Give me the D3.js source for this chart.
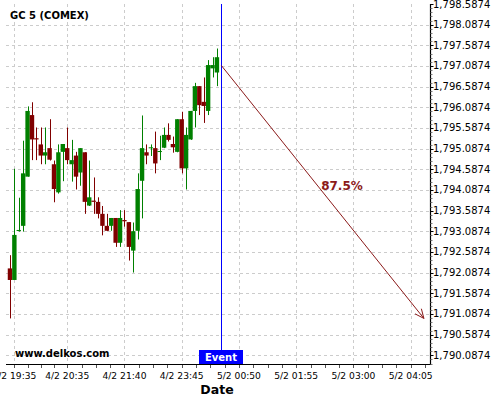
<!DOCTYPE html>
<html>
<head>
<meta charset="utf-8">
<script src="https://cdn.jsdelivr.net/npm/d3@7"></script>
<style>
  html, body { margin: 0; padding: 0; background: #fff; }
  svg { display: block; font-family: "DejaVu Sans", sans-serif; }
</style>
</head>
<body>
<svg id="chart" width="500" height="400"></svg>
<script>
// ---- data ----
const title = "GC 5 (COMEX)";
const opens  = [1792.19,1791.91,1793.10,1793.22,1794.41,1795.90,1795.34,1795.19,1794.92,1795.10,
                1794.71,1794.03,1795.01,1795.10,1794.71,1794.92,1794.51,1795.00,1793.71,1793.83,
                1793.80,1793.51,1793.22,1793.22,1793.41,1792.81,1793.36,1793.31,1792.62,1793.10,
                1794.31,1795.00,1795.10,1795.10,1795.01,1795.11,1795.42,1795.20,1795.01,1795.80,
                1794.61,1795.31,1796.00,1796.60,1796.22,1796.00,1797.03,1796.93];
const highs  = [1792.51,1794.60,1793.90,1795.28,1796.11,1796.21,1795.60,1795.60,1795.60,1795.80,
                1794.80,1795.19,1795.20,1795.60,1795.30,1795.01,1795.10,1795.00,1794.80,1794.39,
                1793.91,1793.70,1793.51,1793.41,1793.41,1793.60,1793.60,1793.31,1793.30,1794.49,
                1795.89,1795.19,1795.19,1795.50,1795.40,1795.60,1795.70,1795.38,1795.80,1795.98,
                1795.60,1796.00,1796.68,1796.60,1796.81,1797.23,1797.30,1797.51];
const lows   = [1790.98,1791.91,1793.08,1793.08,1794.41,1794.81,1794.81,1794.71,1794.71,1794.80,
                1793.79,1794.00,1794.30,1794.71,1794.29,1794.10,1794.19,1793.51,1793.70,1793.51,
                1793.40,1792.99,1793.09,1793.10,1792.71,1792.71,1793.20,1792.38,1792.09,1792.89,
                1793.40,1794.71,1794.91,1794.49,1794.81,1795.10,1795.26,1794.99,1795.00,1794.49,
                1794.10,1795.30,1795.60,1795.90,1795.71,1795.90,1796.81,1796.60];
const closes = [1791.91,1793.00,1793.12,1794.49,1796.00,1795.31,1795.31,1794.92,1795.00,1794.82,
                1794.11,1795.00,1795.20,1794.81,1794.81,1794.41,1795.10,1793.80,1793.91,1793.80,
                1793.51,1793.22,1793.10,1793.41,1792.81,1793.41,1793.33,1792.71,1793.09,1794.11,
                1795.10,1794.92,1795.12,1794.73,1795.03,1795.42,1795.30,1795.12,1795.80,1794.61,
                1795.42,1796.00,1796.60,1796.14,1796.12,1797.11,1797.11,1797.30];
const xTickIndex  = [1, 13, 26, 39, 52, 65, 78, 91];
const xTickLabels = ["4/2 19:35","4/2 20:35","4/2 21:40","4/2 23:45","5/2 00:50","5/2 01:55","5/2 03:00","5/2 04:05"];
const yTickValues = d3.range(0, 18).map(k => 1790.0874 + 0.5 * k);
const eventIndex = [48];
const forecastIndex = [48, 94];
const forecastPrice = [1797.10, 1790.98];
const forecastLabel = ["87.5%"];

// ---- layout ----
const svg = d3.select("#chart");
const L = 6, R = 430.5, T = 4, B = 364;
const x = d3.scaleLinear().domain([-0.9, 95.5]).range([L, R]);
const y = d3.scaleLinear().domain([1789.877, 1798.5874]).range([B, T]);
const step = x(1) - x(0);

// grid
const grid = svg.append("g").attr("stroke", "#cccccc").attr("stroke-dasharray", "3,3").attr("stroke-width", 1);
yTickValues.filter(v => y(v) > T + 2).forEach(v => {
  const yy = Math.round(y(v)) + 0.5;
  grid.append("line").attr("x1", L).attr("x2", R).attr("y1", yy).attr("y2", yy);
});
xTickIndex.forEach(i => {
  const xx = Math.round(x(i)) + 0.5;
  grid.append("line").attr("x1", xx).attr("x2", xx).attr("y1", T).attr("y2", B);
});

// candles
const green = "#008000", red = "#800000";
const candles = svg.append("g");
opens.forEach((o, i) => {
  const c = closes[i];
  const col = c >= o ? green : red;
  const cx = x(i);
  candles.append("line")
    .attr("x1", Math.round(cx) + 0.5).attr("x2", Math.round(cx) + 0.5)
    .attr("y1", y(highs[i])).attr("y2", y(lows[i]))
    .attr("stroke", col).attr("stroke-width", 1);
  const top = y(Math.max(o, c)), bot = y(Math.min(o, c));
  candles.append("rect")
    .attr("x", cx - step / 2).attr("width", step)
    .attr("y", top).attr("height", Math.max(1, bot - top))
    .attr("fill", col);
});

// event line
svg.append("line")
  .attr("x1", Math.round(x(eventIndex[0])) + 0.5).attr("x2", Math.round(x(eventIndex[0])) + 0.5)
  .attr("y1", T).attr("y2", B)
  .attr("stroke", "#0000ff").attr("stroke-width", 1);

// forecast arrow
const arrowCol = "#8b1a1a";
const ax1 = x(forecastIndex[0]), ay1 = y(forecastPrice[0]);
const ax2 = x(forecastIndex[1]), ay2 = y(forecastPrice[1]);
svg.append("line").attr("x1", ax1).attr("y1", ay1).attr("x2", ax2).attr("y2", ay2)
  .attr("stroke", arrowCol).attr("stroke-width", 1);
const ang = Math.atan2(ay2 - ay1, ax2 - ax1);
const hl = 10, ha = 0.42;
[ang + Math.PI - ha, ang + Math.PI + ha].forEach(a => {
  svg.append("line").attr("x1", ax2).attr("y1", ay2)
    .attr("x2", ax2 + hl * Math.cos(a)).attr("y2", ay2 + hl * Math.sin(a))
    .attr("stroke", arrowCol).attr("stroke-width", 1);
});
svg.append("text").attr("x", 342).attr("y", 190).attr("text-anchor", "middle")
  .attr("font-size", "12px").attr("font-weight", "bold").attr("fill", arrowCol)
  .text(forecastLabel[0]);

// axes
const axisG = svg.append("g").attr("stroke", "#000");
axisG.append("line").attr("x1", L).attr("x2", R + 0.5).attr("y1", B + 0.5).attr("y2", B + 0.5).attr("stroke-width", 1.2);
axisG.append("line").attr("x1", R).attr("x2", R).attr("y1", T).attr("y2", B + 0.5).attr("stroke-width", 1.2);

// x ticks (major + quarter minors)
const xMinor = [];
for (let k = 0; k < xTickIndex.length; k++) {
  const a = xTickIndex[k];
  const b = k < xTickIndex.length - 1 ? xTickIndex[k + 1] : a + 13;
  for (let q = 1; q < 4; q++) xMinor.push(a + (b - a) * q / 4);
}
xMinor.push(xTickIndex[xTickIndex.length - 1] + 13 * 4 / 4 * 0.25 * 1);
xTickIndex.concat(xMinor).filter(i => x(i) <= R && x(i) >= L).forEach(i => {
  const xx = Math.round(x(i)) + 0.5;
  axisG.append("line").attr("x1", xx).attr("x2", xx).attr("y1", B + 1).attr("y2", B + 4).attr("stroke-width", 1).attr("stroke", "#555");
});
svg.append("g").selectAll("text").data(xTickIndex).join("text")
  .attr("x", d => x(d)).attr("y", 379)
  .attr("text-anchor", "middle").attr("font-size", "9.5px")
  .attr("textLength", 44).attr("lengthAdjust", "spacingAndGlyphs")
  .attr("fill", "#000")
  .text((d, i) => xTickLabels[i]);

// y ticks
const yMinor = [];
yTickValues.forEach(v => { for (let q = 1; q < 5; q++) yMinor.push(v - 0.1 * q); });
yMinor.push(...[1,2,3,4].map(q => yTickValues[yTickValues.length - 1] + 0.1 * q));
yMinor.filter(v => y(v) <= B && y(v) >= T).forEach(v => {
  const yy = Math.round(y(v)) + 0.5;
  axisG.append("line").attr("x1", R).attr("x2", R + 2).attr("y1", yy).attr("y2", yy).attr("stroke-width", 1).attr("stroke", "#777");
});
yTickValues.forEach(v => {
  const yy = Math.round(y(v)) + 0.5;
  axisG.append("line").attr("x1", R).attr("x2", R + 3).attr("y1", yy).attr("y2", yy).attr("stroke-width", 1);
});
const fmt = d3.format(",.4f");
svg.append("g").selectAll("text").data(yTickValues).join("text")
  .attr("x", 433).attr("y", d => y(d)).attr("dy", "0.35em")
  .attr("font-size", "10px").attr("fill", "#000")
  .text(d => fmt(d));

// texts
svg.append("text").attr("x", 10).attr("y", 19).attr("font-size", "10px").attr("font-weight", "bold").text(title);
svg.append("text").attr("x", 15).attr("y", 357).attr("font-size", "10px").attr("font-weight", "bold").text("www.delkos.com");
svg.append("rect").attr("x", 199).attr("y", 350).attr("width", 44).attr("height", 14).attr("fill", "#0000ff");
svg.append("text").attr("x", 221).attr("y", 361).attr("text-anchor", "middle").attr("font-size", "10px")
  .attr("font-weight", "bold").attr("fill", "#fff").text("Event");
svg.append("text").attr("x", 217).attr("y", 394).attr("text-anchor", "middle").attr("font-size", "12.5px")
  .attr("font-weight", "bold").text("Date");
</script>
</body>
</html>
